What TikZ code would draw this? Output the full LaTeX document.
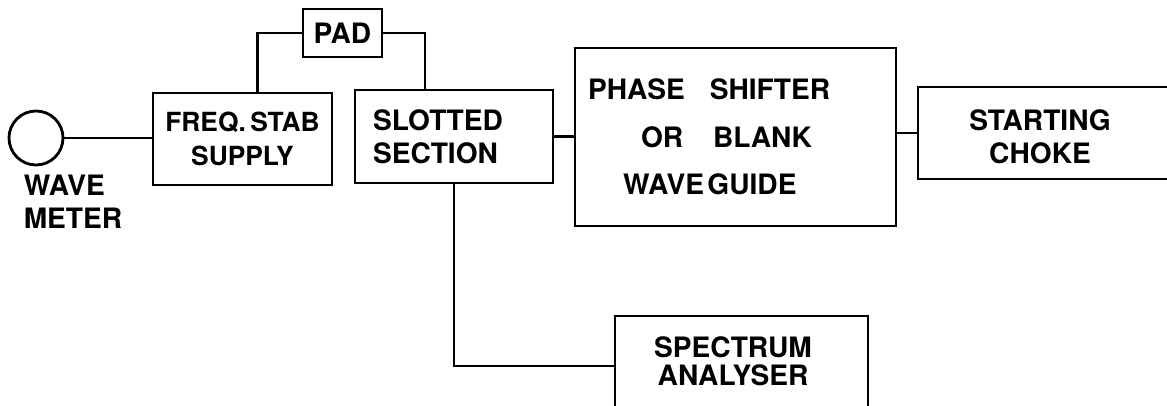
\documentclass[tikz,border=0pt]{standalone}
\usepackage{fontspec}
\setmainfont{TeX Gyre Heros}

\begin{document}
\begin{tikzpicture}[line width=1.6pt,
  every node/.style={font=\bfseries\fontsize{16}{19}\selectfont},
  blk/.style={draw, rectangle, inner sep=0pt}]
\useasboundingbox (0,0) rectangle (23.34,8.12);
\clip (0,0) rectangle (23.34,8.12);

\node[draw, circle, minimum size=1.08cm, inner sep=0pt] (wm) at (0.72,5.36) {};
\node[align=left] (wmtext) at (1.46,4.08) {WAVE\\METER};
\node[blk, minimum width=3.58cm, minimum height=1.84cm, align=center,
  font=\bfseries\fontsize{15}{19}\selectfont] (freq) at (4.85,5.34) {FREQ.\,STAB\\SUPPLY};
\node[blk, minimum width=1.58cm, minimum height=0.96cm] (pad) at (6.85,7.46) {PAD};
\node[blk, minimum height=1.86cm, text width=3.24cm, inner xsep=0.36cm, align=left] (slot) at (9.08,5.39) {SLOTTED\\SECTION};
\node[blk, minimum height=3.56cm, text width=5.9cm, inner xsep=0.26cm, align=left] (phase) at (14.71,5.38)
  {PHASE\hspace{0.5cm}SHIFTER\\[8pt]\hspace*{1.06cm}OR\hspace{0.6cm}BLANK\\[8pt]\hspace*{0.7cm}WAVE\hspace{2pt}GUIDE};
\node[blk, minimum width=5.34cm, minimum height=1.84cm] (choke) at (21.03,5.46) {};
\node[align=center] (choketext) at (20.8,5.39) {STARTING\\CHOKE};
\node[blk, minimum width=5.06cm, minimum height=2cm] (spec) at (14.83,0.8) {};
\node[align=center] (spectext) at (14.66,0.9) {SPECTRUM\\[-3pt]ANALYSER};

\draw (wm) -- (wm -| freq.west);
\draw ([xshift=0.3cm]freq.north) |- (pad.west);
\draw (pad.east) -| ([xshift=-0.58cm]slot.north);
\draw (slot.east) -- (slot.east -| phase.west);
\draw (choke.west -| phase.east) -- (choke.west);
\draw (slot.south) |- (spec.west);
\end{tikzpicture}
\end{document}
